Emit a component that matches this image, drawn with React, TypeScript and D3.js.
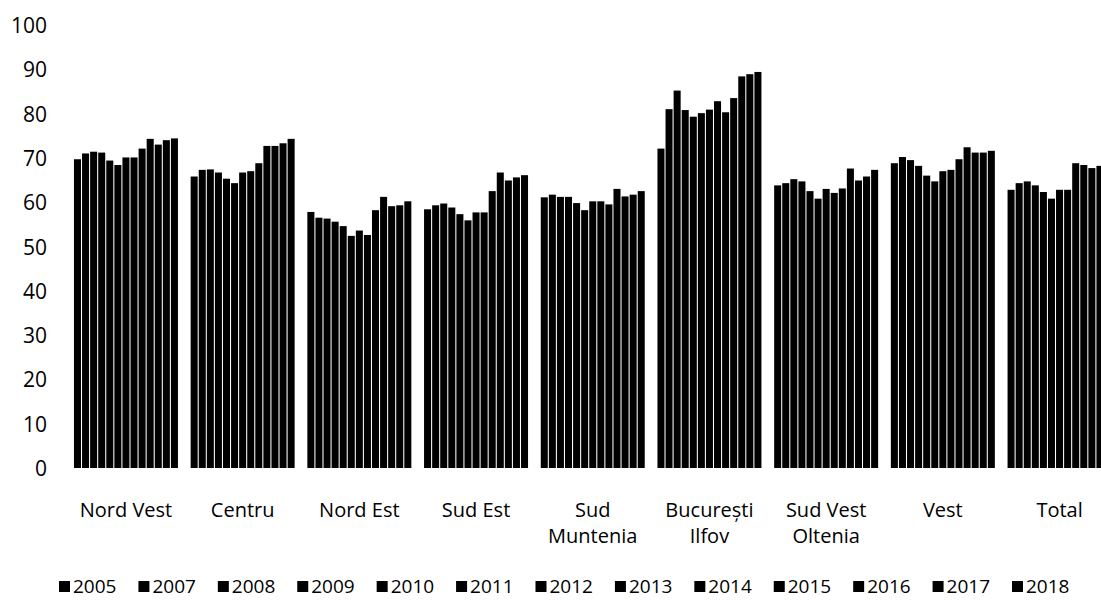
import React from "react";
import * as d3 from "d3";

const regions = [
  "Nord Vest",
  "Centru",
  "Nord Est",
  "Sud Est",
  "Sud Muntenia",
  "București Ilfov",
  "Sud Vest Oltenia",
  "Vest",
  "Total",
];

const regionLines: string[][] = [
  ["Nord Vest"],
  ["Centru"],
  ["Nord Est"],
  ["Sud Est"],
  ["Sud", "Muntenia"],
  ["București", "Ilfov"],
  ["Sud Vest", "Oltenia"],
  ["Vest"],
  ["Total"],
];

const years = ["2005", "2007", "2008", "2009", "2010", "2011", "2012", "2013", "2014", "2015", "2016", "2017", "2018"];

const nordVest = [69.7, 71.0, 71.4, 71.2, 69.4, 68.4, 70.1, 70.1, 72.1, 74.3, 73.0, 74.0, 74.4];
const centru = [65.8, 67.3, 67.4, 66.7, 65.3, 64.3, 66.7, 67.0, 68.8, 72.7, 72.7, 73.3, 74.3];
const nordEst = [57.8, 56.5, 56.3, 55.6, 54.6, 52.4, 53.6, 52.6, 58.2, 61.2, 59.1, 59.3, 60.2];
const sudEst = [58.4, 59.3, 59.7, 58.8, 57.3, 55.9, 57.7, 57.7, 62.5, 66.7, 64.9, 65.6, 66.1];
const sudMuntenia = [61.1, 61.7, 61.2, 61.2, 59.8, 58.2, 60.2, 60.2, 59.5, 63.0, 61.3, 61.7, 62.5];
const bucurestiIlfov = [72.1, 81.0, 85.2, 80.8, 79.3, 80.1, 80.9, 82.8, 80.3, 83.5, 88.4, 88.9, 89.4];
const sudVestOltenia = [63.8, 64.3, 65.2, 64.7, 62.5, 60.8, 63.0, 62.1, 63.1, 67.6, 64.9, 65.8, 67.3];
const vest = [68.8, 70.2, 69.5, 68.2, 66.0, 64.7, 67.0, 67.3, 69.7, 72.4, 71.2, 71.2, 71.6];
const total = [62.8, 64.3, 64.7, 63.8, 62.3, 60.8, 62.8, 62.8, 68.8, 68.4, 67.7, 68.2, 68.0];

const groupValues = [nordVest, centru, nordEst, sudEst, sudMuntenia, bucurestiIlfov, sudVestOltenia, vest, total];

const yTicks = [0, 10, 20, 30, 40, 50, 60, 70, 80, 90, 100];

const W = 1101;
const H = 600;
const FONT = "'Open Sans', sans-serif";

export default function App() {
  const y = d3.scaleLinear().domain([0, 100]).range([468, 25]);
  const x0 = d3
    .scaleBand<string>()
    .domain(regions)
    .range([67.6, 1117.9])
    .paddingInner(0.109)
    .paddingOuter(0.0545);
  const x1 = d3.scaleBand<string>().domain(years).range([0, x0.bandwidth()]).paddingInner(0.13).paddingOuter(0);

  const legendX = d3.scalePoint<string>().domain(years).range([59, 1012]);

  return (
    <svg width={W} height={H} style={{ position: "absolute", left: 0, top: 0, background: "#fff" }}>
      <rect x={0} y={0} width={W} height={H} fill="#fff" />
      {yTicks.map((t) => (
        <text key={t} x={47} y={y(t)} textAnchor="end" dominantBaseline="central" fontFamily={FONT} fontSize={21} fill="#000">
          {t}
        </text>
      ))}
      {regions.map((r, gi) => (
        <g key={r} transform={`translate(${x0(r)},0)`}>
          {groupValues[gi].map((v, i) => (
            <rect
              key={years[i]}
              x={x1(years[i])}
              y={y(v)}
              width={x1.bandwidth()}
              height={y(0) - y(v)}
              fill="#000"
            />
          ))}
        </g>
      ))}
      {regions.map((r, gi) => (
        <text key={r} textAnchor="middle" fontFamily={FONT} fontSize={20} fill="#000">
          {regionLines[gi].map((line, li) => (
            <tspan key={li} x={(x0(r) as number) + x0.bandwidth() / 2} y={517 + li * 26}>
              {line}
            </tspan>
          ))}
        </text>
      ))}
      {years.map((yr) => (
        <g key={yr} transform={`translate(${legendX(yr)},0)`}>
          <rect x={0} y={581} width={11} height={11} fill="#000" />
          <text x={14} y={593} fontFamily={FONT} fontSize={19} fill="#000">
            {yr}
          </text>
        </g>
      ))}
    </svg>
  );
}
